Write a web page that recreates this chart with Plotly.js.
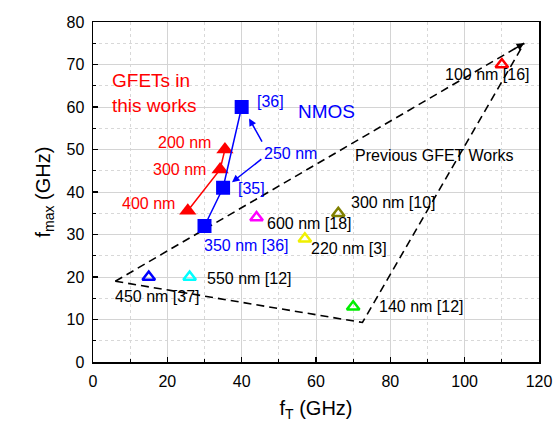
<!DOCTYPE html>
<html>
<head>
<meta charset="utf-8">
<script src="https://cdn.plot.ly/plotly-3.0.1.min.js"></script>
<style>html,body{margin:0;padding:0;background:#fff;}#chart{width:555px;height:427px;}</style>
</head>
<body>
<div id="chart"></div>
<script>
// GFETs in this work (filled red triangles)
const gfetFt = [35.5, 34.2, 25.5];
const gfetFmax = [50, 45.3, 35.6];
const gfetLabels = ['200 nm', '300 nm', '400 nm'];

// NMOS (filled blue squares)
const nmosFt = [40, 35, 30];
const nmosFmax = [60, 41, 32];
const nmosLabels = ['[36]', '[35]', '350 nm [36]'];

// Previous GFET works (open triangles)
const prevFt = [15, 26, 44, 57, 66, 70, 110];
const prevFmax = [20, 20, 34, 29, 35, 13, 70];
const prevLabels = ['450 nm [37]', '550 nm [12]', '600 nm [18]', '220 nm [3]', '300 nm [10]', '140 nm [12]', '100 nm [16]'];
const prevColors = ['#0000ff', '#00ffff', '#ff00ff', '#f0f000', '#808000', '#00ee00', '#ff0000'];

// Region boundary of previous GFET works (dashed)
const upperEdgeX = [6, 116];
const upperEdgeY = [19, 75];
const lowerEdgeX = [6, 72.5, 116];
const lowerEdgeY = [19, 9.3, 75];

const xTicks = [0, 20, 40, 60, 80, 100, 120];
const yTicks = [0, 10, 20, 30, 40, 50, 60, 70, 80];

const FONT = 'Liberation Sans, Arial, sans-serif';
const dash = '8px,5px';

const traces = [
  {x: upperEdgeX, y: upperEdgeY, mode: 'lines', line: {color: '#000', width: 1.6, dash: dash}, hoverinfo: 'skip'},
  {x: lowerEdgeX, y: lowerEdgeY, mode: 'lines', line: {color: '#000', width: 1.6, dash: dash}, hoverinfo: 'skip'},
  {x: gfetFt, y: gfetFmax, mode: 'lines+markers', line: {color: '#ff0000', width: 1.5},
   marker: {symbol: 'triangle-up', size: 15, color: '#ff0000'}},
  {x: nmosFt, y: nmosFmax, mode: 'lines+markers', line: {color: '#0000ff', width: 1.5},
   marker: {symbol: 'square', size: 14, color: '#0000ff'}},
  {x: prevFt, y: prevFmax, mode: 'markers',
   marker: {symbol: 'triangle-up-open', size: 11, color: prevColors, line: {color: prevColors, width: 2.5}}}
];

const txt = (x, y, text, color, xanchor) => ({
  x: x, y: y, xref: 'x', yref: 'y', text: text, showarrow: false,
  xanchor: xanchor || 'left', yanchor: 'middle',
  font: {family: FONT, size: 16, color: color}
});

const annotations = [
  {x: 4.6, y: 63.4, xref: 'x', yref: 'y', text: 'GFETs in<br>this works', showarrow: false,
   xanchor: 'left', yanchor: 'middle', align: 'left',
   font: {family: FONT, size: 19, color: '#ff0000'}},
  {x: 62.7, y: 59, xref: 'x', yref: 'y', text: 'NMOS', showarrow: false,
   xanchor: 'center', yanchor: 'middle', font: {family: FONT, size: 19, color: '#0000ff'}},
  txt(32.4, 51.6, gfetLabels[0], '#ff0000', 'right'),
  txt(31.0, 45.4, gfetLabels[1], '#ff0000', 'right'),
  txt(22.5, 37.2, gfetLabels[2], '#ff0000', 'right'),
  txt(43.5, 61.2, nmosLabels[0], '#0000ff'),
  txt(38.5, 40.8, nmosLabels[1], '#0000ff'),
  txt(29.4, 27.5, nmosLabels[2], '#0000ff'),
  txt(45.6, 49.1, '250 nm', '#0000ff'),
  txt(5.4, 15.4, prevLabels[0], '#000'),
  txt(30.0, 19.7, prevLabels[1], '#000'),
  txt(46.4, 32.6, prevLabels[2], '#000'),
  txt(58.2, 26.6, prevLabels[3], '#000'),
  txt(69.0, 37.5, prevLabels[4], '#000'),
  txt(76.4, 13.1, prevLabels[5], '#000'),
  txt(94.2, 67.7, prevLabels[6], '#000'),
  txt(70.0, 48.5, 'Previous GFET Works', '#000'),
  // blue arrows from "250 nm"
  {x: 42.0, y: 57.3, ax: 45.7, ay: 51.5, xref: 'x', yref: 'y', axref: 'x', ayref: 'y',
   showarrow: true, arrowhead: 2, arrowsize: 1, arrowwidth: 1.5, arrowcolor: '#0000ff', text: ''},
  {x: 37.4, y: 42.3, ax: 45.7, ay: 48.0, xref: 'x', yref: 'y', axref: 'x', ayref: 'y',
   showarrow: true, arrowhead: 2, arrowsize: 1, arrowwidth: 1.5, arrowcolor: '#0000ff', text: ''},
  // arrowhead at end of dashed boundary
  {x: 116, y: 75, ax: 113, ay: 73.47, xref: 'x', yref: 'y', axref: 'x', ayref: 'y',
   showarrow: true, arrowhead: 2, arrowsize: 1, arrowwidth: 1.5, arrowcolor: '#000', text: ''}
];

const axisCommon = {
  showline: true, linecolor: '#000', linewidth: 1.5, mirror: true,
  ticks: 'inside', ticklen: 5, tickwidth: 1.2, tickcolor: '#000',
  showgrid: true, gridcolor: '#d4d4d4', gridwidth: 1,
  zeroline: false,
  tickfont: {family: FONT, size: 16, color: '#000'},
  minor: {ticks: 'inside', ticklen: 3, tickwidth: 1.2, tickcolor: '#000',
          showgrid: true, gridcolor: '#d8d8d8', griddash: 'dot', gridwidth: 1}
};

const layout = {
  width: 555, height: 427,
  margin: {l: 93, r: 16, t: 22, b: 65},
  paper_bgcolor: '#fff', plot_bgcolor: '#fff',
  showlegend: false,
  xaxis: Object.assign({}, axisCommon, {
    range: [0, 120], tickvals: xTicks, ticktext: xTicks.map(String),
    minor: Object.assign({}, axisCommon.minor, {dtick: 10, tick0: 0}),
    ticklabelstandoff: 4,
    title: {text: 'f<sub>T</sub> (GHz)', font: {family: FONT, size: 20, color: '#000'}, standoff: 12}
  }),
  yaxis: Object.assign({}, axisCommon, {
    range: [0, 80], tickvals: yTicks, ticktext: yTicks.map(String),
    minor: Object.assign({}, axisCommon.minor, {dtick: 5, tick0: 0}),
    ticklabelstandoff: 4,
    title: {text: 'f<sub>max</sub> (GHz)', font: {family: FONT, size: 20, color: '#000'}, standoff: 10}
  }),
  annotations: annotations
};

Plotly.newPlot('chart', traces, layout, {displayModeBar: false, staticPlot: true});
</script>
</body>
</html>
